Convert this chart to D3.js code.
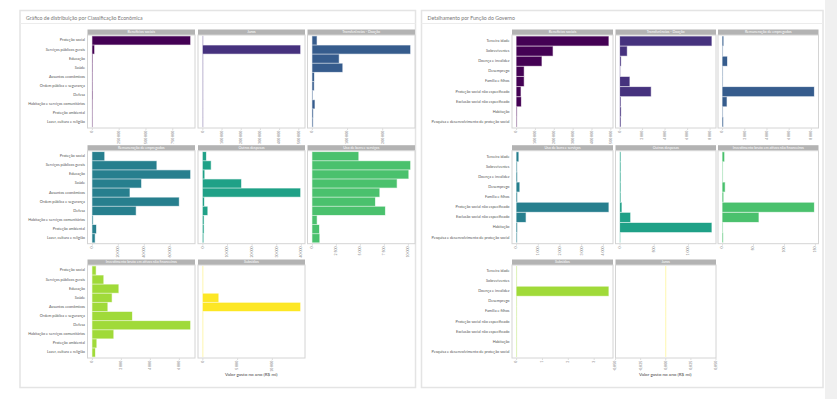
<!DOCTYPE html>
<html>
<head>
<meta charset="utf-8">
<script src="https://cdn.jsdelivr.net/npm/d3@7"></script>
<style>
  body { margin: 0; background: #fff; }
  svg { font-family: Lato, "Open Sans", sans-serif; display: block; }
</style>
</head>
<body>
<svg id="chart"></svg>
<script>
// ---- dados: classificação econômica ----
var econCategories = ["Proteção social", "Serviços públicos gerais", "Educação", "Saúde",
  "Assuntos econômicos", "Ordem pública e segurança", "Defesa",
  "Habitação e serviços comunitários", "Proteção ambiental", "Lazer, cultura e religião"];
var econFacets = ["Benefícios sociais", "Juros", "Transferências - Doação",
  "Remuneração de empregados", "Outras despesas", "Uso de bens e serviços",
  "Investimento bruto em ativos não financeiros", "Subsídios"];

var econBeneficios    = [912000, 16000, 1000, 800, 500, 600, 1200, 300, 100, 200];
var econJuros         = [0, 507000, 0, 0, 0, 0, 0, 0, 0, 0];
var econTransferencias= [12000, 278000, 75000, 85000, 4500, 4000, 300, 6000, 1500, 1000];
var econRemuneracao   = [9100, 49300, 75300, 37500, 28600, 66600, 33400, 300, 2800, 1800];
var econOutras        = [1260, 3200, 570, 15500, 39500, 450, 1800, 300, 300, 150];
var econUsoBens       = [4780, 10180, 9990, 8780, 6970, 6520, 7560, 450, 690, 720];
var econInvestimento  = [230, 750, 1790, 1330, 1030, 2730, 6740, 1440, 270, 180];
var econSubsidios     = [3.5, 0, 0, 2220, 14000, 0, 0, 0, 0, 0];

var econTicks = [
  [0, 250000, 500000, 750000],
  [0, 100000, 200000, 300000, 400000, 500000],
  [0, 100000, 200000],
  [0, 20000, 40000, 60000],
  [0, 10000, 20000, 30000, 40000],
  [0, 2500, 5000, 7500, 10000],
  [0, 2000, 4000, 6000],
  [0, 5000, 10000]
];

// ---- dados: função do governo (proteção social) ----
var funcCategories = ["Terceira idade", "Sobreviventes", "Doença e invalidez", "Desemprego",
  "Família e filhos", "Proteção social não especificado", "Exclusão social não especificado",
  "Habitação", "Pesquisa e desenvolvimento de proteção social"];
var funcFacets = ["Benefícios sociais", "Transferências - Doação", "Remuneração de empregados",
  "Uso de bens e serviços", "Outras despesas", "Investimento bruto em ativos não financeiros",
  "Subsídios", "Juros"];

var funcBeneficios    = [487000, 191000, 132000, 38000, 38000, 21000, 23000, 500, 250];
var funcTransferencias= [8120, 600, 60, 0, 830, 2730, 40, 60, 40];
var funcRemuneracao   = [60, 0, 400, 0, 0, 8230, 360, 0, 40];
var funcUsoBens       = [80, 10, 20, 125, 20, 4230, 415, 20, 10];
var funcOutras        = [5, 5, 5, 5, 5, 20, 147, 1336, 0];
var funcInvestimento  = [2.5, 0, 0, 3.5, 1, 147.6, 58, 0, 0.5];
var funcSubsidios     = [0, 0, 3.55, 0, 0, 0, 0, 0, 0];
var funcJuros         = [0, 0, 0, 0, 0, 0, 0, 0, 0];

var funcTicks = [
  [0, 100000, 200000, 300000, 400000, 500000],
  [0, 2000, 4000, 6000, 8000],
  [0, 2000, 4000, 6000, 8000],
  [0, 1000, 2000, 3000, 4000],
  [0, 500, 1000],
  [0, 50, 100, 150],
  [0, 1, 2, 3],
  [-0.05, -0.025, 0, 0.025, 0.05]
];

var axisTitle = "Valor gasto no ano (R$ mi)";

// ---- desenho ----
var width = 837, height = 399;
var svg = d3.select("#chart").attr("width", width).attr("height", height);

var loc = d3.formatLocale({decimal: ",", thousands: " ", grouping: [3], currency: ["R$ ", ""], minus: "-"});
var colors = d3.quantize(d3.interpolateViridis, 8);

// faixa cinza à direita
svg.append("rect").attr("x", 825).attr("y", 0).attr("width", 12).attr("height", height).attr("fill", "#f0f0f0");

var rows = [29.5, 145.2, 259.5];   // topo da faixa do facet
var stripH = 5.5, panelH = 93;

var drawCard = function(opt) {
  var card = svg.append("g");
  card.append("rect")
      .attr("x", opt.x0).attr("y", 10.5)
      .attr("width", opt.x1 - opt.x0).attr("height", 377)
      .attr("fill", "#fff").attr("stroke", "#e4e4e4").attr("stroke-width", 1.5);
  card.append("line")
      .attr("x1", opt.x0).attr("x2", opt.x1).attr("y1", 23.5).attr("y2", 23.5)
      .attr("stroke", "#ececec");
  card.append("text")
      .attr("x", opt.x0 + 6).attr("y", 18.3)
      .attr("dominant-baseline", "middle")
      .attr("font-size", 5.2).attr("fill", "#777")
      .text(opt.title);

  opt.facets.forEach(function(name, i) {
    var r = Math.floor(i / 3), c = i % 3;
    var left = opt.cols[c][0], right = opt.cols[c][1];
    var top = rows[r] + stripH, bottom = top + panelH;
    var vals = opt.values[i];
    var max = d3.max(vals);
    var xScale = d3.scaleLinear()
        .domain(max > 0 ? [-0.05 * max, 1.05 * max] : [-0.05, 0.05])
        .range([left, right]);
    var yScale = d3.scaleBand()
        .domain(opt.categories)
        .range([top, bottom])
        .paddingInner(0.1).paddingOuter(0.15);

    var g = card.append("g").classed("facet", true);
    g.append("rect")
        .attr("x", left).attr("y", rows[r])
        .attr("width", right - left).attr("height", stripH)
        .attr("fill", "#b3b3b3");
    g.append("text")
        .attr("x", (left + right) / 2).attr("y", rows[r] + stripH / 2 + 0.2)
        .attr("text-anchor", "middle").attr("dominant-baseline", "middle")
        .attr("font-size", 3.6).attr("fill", "#fff")
        .text(name);
    g.append("rect")
        .attr("x", left).attr("y", top)
        .attr("width", right - left).attr("height", panelH)
        .attr("fill", "#fff").attr("stroke", "#d4d4d4").attr("stroke-width", 1);

    // barras (as de valor zero ficam como um traço claro no zero)
    g.selectAll("rect.bar")
        .data(vals)
        .enter()
        .append("rect")
        .classed("bar", true)
        .attr("x", xScale(0))
        .attr("y", function(d, j) { return yScale(opt.categories[j]); })
        .attr("width", function(d) { return Math.max(xScale(d) - xScale(0), 0.01); })
        .attr("height", yScale.bandwidth())
        .attr("fill", colors[i])
        .attr("stroke", colors[i]).attr("stroke-opacity", 0.35).attr("stroke-width", 1);

    var ticks = opt.ticks[i];
    var f = ticks.some(function(t) { return t % 1 !== 0; }) ? loc.format(",.3f") : loc.format(",");
    var tg = g.selectAll("g.tick")
        .data(ticks)
        .enter()
        .append("g")
        .attr("transform", function(d) { return "translate(" + xScale(d) + "," + bottom + ")"; });
    tg.append("line").attr("y1", 0.5).attr("y2", 2).attr("stroke", "#bbb").attr("stroke-width", 0.5);
    tg.append("text")
        .attr("transform", "translate(0,2.8) rotate(-90)")
        .attr("text-anchor", "end").attr("dominant-baseline", "middle")
        .attr("font-size", 3.5).attr("fill", "#777")
        .text(function(d) { return f(d); });

    if (c === 0) {
      g.selectAll("text.cat")
          .data(opt.categories)
          .enter()
          .append("text")
          .classed("cat", true)
          .attr("x", left - 2.5)
          .attr("y", function(d) { return yScale(d) + yScale.bandwidth() / 2; })
          .attr("text-anchor", "end").attr("dominant-baseline", "middle")
          .attr("font-size", 3.8).attr("fill", "#555")
          .text(function(d) { return d; });
    }
  });

  card.append("text")
      .attr("x", (opt.cols[0][0] + opt.cols[2][1]) / 2).attr("y", 374.5)
      .attr("text-anchor", "middle").attr("dominant-baseline", "middle")
      .attr("font-size", 4.6).attr("fill", "#444")
      .text(axisTitle);
};

drawCard({
  x0: 20, x1: 415.5,
  title: "Gráfico de distribuição por Classificação Econômica",
  categories: econCategories,
  facets: econFacets,
  values: [econBeneficios, econJuros, econTransferencias, econRemuneracao,
           econOutras, econUsoBens, econInvestimento, econSubsidios],
  ticks: econTicks,
  cols: [[87.5, 195], [198, 305], [307.5, 415]]
});

drawCard({
  x0: 421.5, x1: 823,
  title: "Detalhamento por Função do Governo",
  categories: funcCategories,
  facets: funcFacets,
  values: [funcBeneficios, funcTransferencias, funcRemuneracao, funcUsoBens,
           funcOutras, funcInvestimento, funcSubsidios, funcJuros],
  ticks: funcTicks,
  cols: [[512, 613], [615.5, 716], [718, 818.5]]
});
</script>
</body>
</html>
